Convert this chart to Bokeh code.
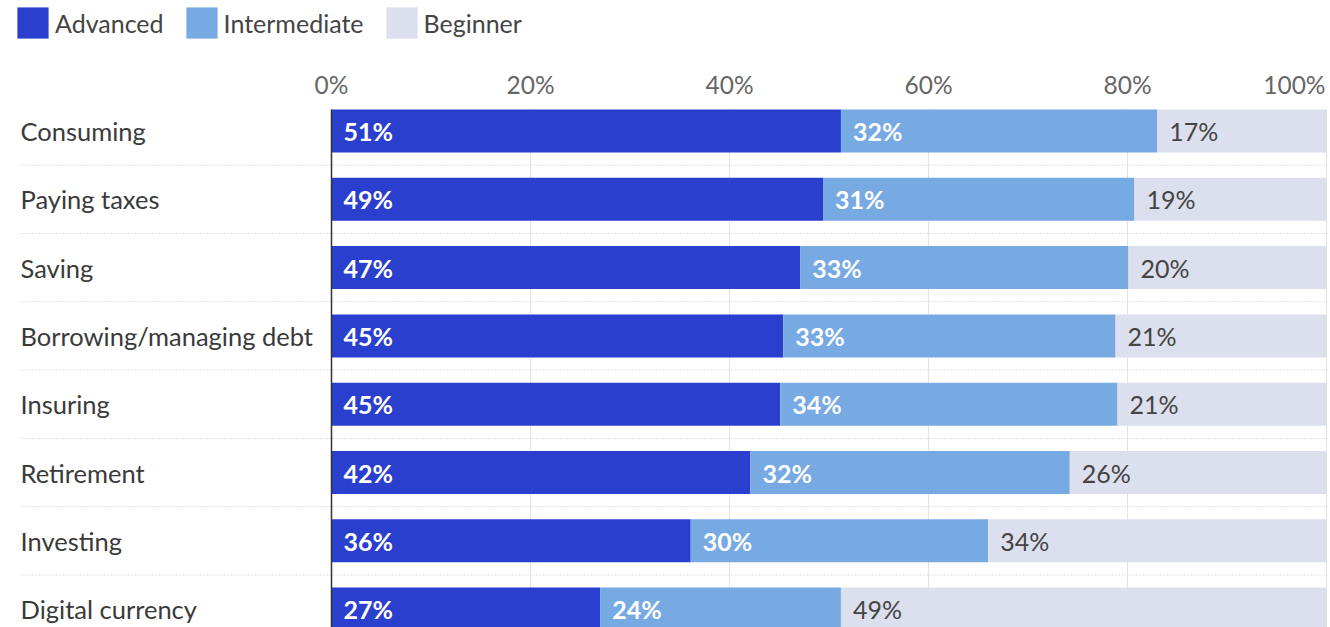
from bokeh.plotting import figure
from bokeh.models import ColumnDataSource, Range1d, Legend, LegendItem
from bokeh.core.properties import value
from bokeh.embed import file_html
from bokeh.resources import INLINE

categories = ["Consuming", "Paying taxes", "Saving", "Borrowing/managing debt",
              "Insuring", "Retirement", "Investing", "Digital currency"]
advanced = [51.2, 49.4, 47.1, 45.4, 45.1, 42.1, 36.1, 27.0]
intermediate = [31.8, 31.3, 33.0, 33.4, 33.9, 32.1, 29.9, 24.2]
beginner = [17.0, 19.3, 19.9, 21.2, 21.0, 25.8, 34.0, 48.8]
series_names = ["Advanced", "Intermediate", "Beginner"]
x_ticks = [0, 20, 40, 60, 80, 100]
x_tick_labels = ["0%", "20%", "40%", "60%", "80%", "100%"]

COLORS = ["#2b3fcf", "#77a9e3", "#dcdfed"]
FONT = "Lato"

W, HGT = 1330, 627
PX_PER_UNIT = 9.95          # pixels per percentage point
ZERO_PX = 331               # pixel position of 0%
ROW_PX = 68.3               # pixels per category row
ROW0_PX = 130.5             # pixel centre of first row
X_START = -ZERO_PX / PX_PER_UNIT
X_END = X_START + W / PX_PER_UNIT
Y_TOP = -ROW0_PX / ROW_PX
Y_BOT = Y_TOP + HGT / ROW_PX
LABEL_X = X_START + 20 / PX_PER_UNIT
SEP_X = X_START + 20 / PX_PER_UNIT
TICK_Y = Y_TOP + 83.5 / ROW_PX
BAR_H = 0.63

ys = list(range(len(categories)))
int_right = [a + b for a, b in zip(advanced, intermediate)]
beg_right = [a + b + c for a, b, c in zip(advanced, intermediate, beginner)]

p = figure(width=W, height=HGT, output_backend="svg", toolbar_location=None,
           x_range=Range1d(X_START, X_END), y_range=Range1d(Y_BOT, Y_TOP),
           x_axis_location=None, y_axis_location=None,
           min_border=0, min_border_left=0, min_border_right=0,
           min_border_top=0, min_border_bottom=0)
p.outline_line_color = None
p.background_fill_color = "white"
p.border_fill_color = "white"
p.xgrid.visible = False
p.ygrid.visible = False

top_of_bars = ys[0] - BAR_H / 2
# vertical gridlines
grid_x = [t for t in x_ticks if t > 0]
p.segment(x0=grid_x, x1=grid_x, y0=[top_of_bars] * len(grid_x), y1=[Y_BOT] * len(grid_x),
          line_color="#e3e3e3", line_width=1)

# dotted row separators
sep_y = [i + 0.5 for i in ys[:-1]]
p.segment(x0=[SEP_X] * len(sep_y), x1=[100] * len(sep_y), y0=sep_y, y1=sep_y,
          line_color="#c4c4c4", line_width=1, line_dash="1 2")

src = ColumnDataSource(dict(y=ys, cat=categories,
                            al=[0.0] * len(ys), ar=advanced,
                            il=advanced, ir=int_right,
                            bl=int_right, br=beg_right,
                            at=[f"{round(v)}%" for v in advanced],
                            it=[f"{round(v)}%" for v in intermediate],
                            bt=[f"{round(v)}%" for v in beginner]))
r_adv = p.hbar(y="y", left="al", right="ar", height=BAR_H, source=src,
               fill_color=COLORS[0], line_color=None)
r_int = p.hbar(y="y", left="il", right="ir", height=BAR_H, source=src,
               fill_color=COLORS[1], line_color=None)
r_beg = p.hbar(y="y", left="bl", right="br", height=BAR_H, source=src,
               fill_color=COLORS[2], line_color=None)

# axis line at 0%
p.segment(x0=[0], x1=[0], y0=[top_of_bars], y1=[Y_BOT], line_color="#333333", line_width=1.5)

for lcol, tcol, color, style in [("al", "at", "white", "bold"),
                                 ("il", "it", "white", "bold"),
                                 ("bl", "bt", "#444444", "normal")]:
    p.text(x=lcol, y="y", text=tcol, source=src, x_offset=12,
           text_baseline="middle", text_align="left", text_color=color,
           text_font=value(FONT), text_font_size="25px", text_font_style=style)

# category labels
p.text(x=LABEL_X, y="y", text="cat", source=src, text_baseline="middle",
       text_align="left", text_color="#3a3a3a", text_font=value(FONT),
       text_font_size="25.5px")

# x tick labels (top)
tick_src = ColumnDataSource(dict(x=x_ticks, y=[TICK_Y] * len(x_ticks), t=x_tick_labels,
                                 align=["center"] * (len(x_ticks) - 1) + ["right"],
                                 off=[0] * (len(x_ticks) - 1) + [-1]))
p.text(x="x", y="y", text="t", source=tick_src, x_offset="off", text_align="align",
       text_baseline="middle", text_color="#666666", text_font=value(FONT),
       text_font_size="24.5px")

legend = Legend(items=[LegendItem(label=series_names[0], renderers=[r_adv]),
                       LegendItem(label=series_names[1], renderers=[r_int]),
                       LegendItem(label=series_names[2], renderers=[r_beg])],
                orientation="horizontal", location=(13, HGT - 42),
                glyph_width=39, glyph_height=39, label_standoff=3, spacing=18,
                padding=0, margin=0, border_line_color=None,
                background_fill_alpha=0,
                label_text_font=FONT, label_text_font_size="25px",
                label_text_color="#444444")
p.add_layout(legend)

open("out.html", "w").write(file_html(p, INLINE))
